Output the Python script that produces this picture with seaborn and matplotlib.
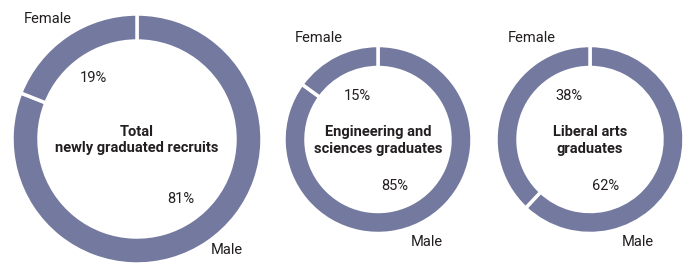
import matplotlib
matplotlib.use("Agg")
import matplotlib.pyplot as plt
import seaborn as sns

# data
titles = ["Total\nnewly graduated recruits", "Engineering and\nsciences graduates", "Liberal arts\ngraduates"]
male_pct = [81, 85, 62]
female_pct = [19, 15, 38]
labels = ["Male", "Female"]

sns.set_theme(style="white")
plt.rcParams['font.family'] = ['Liberation Sans Narrow', 'Roboto', 'DejaVu Sans']

ring_color = "#74799f"
txt_color = "#231f20"

W, H = 691, 266
fig = plt.figure(figsize=(W / 100, H / 100), dpi=100)
ax = fig.add_axes([0, 0, 1, 1])

# layout: centre (x, y from top), outer radius, ring width
layout = [
    dict(c=(137, 139), r=125, w=27),
    dict(c=(378, 139.5), r=94, w=22),
    dict(c=(590, 139.5), r=94, w=22),
]
# text offsets from centre (px, y down)
fem_off = [(-89, -120), (-59, -101), (-58, -101)]
fem_pct_off = [(-44, -61), (-21, -44), (-21, -44)]
male_pct_off = [(44, 60), (17, 46), (16, 46)]
male_off = [(90, 111), (49, 102), (48, 102)]

for i in range(3):
    cx, cy = layout[i]['c']
    r, w = layout[i]['r'], layout[i]['w']
    ax.pie([male_pct[i], female_pct[i]], center=(cx, H - cy), radius=r,
           startangle=90, counterclock=False, colors=[ring_color, ring_color],
           wedgeprops=dict(width=w, edgecolor="white", linewidth=2.5))

    def put(off, s, **kw):
        ax.text(cx + off[0], H - (cy + off[1]), s, ha="center", va="center",
                color=txt_color, **kw)

    put(fem_off[i], labels[1], fontsize=10.5)
    put(male_off[i], labels[0], fontsize=10.5)
    put(fem_pct_off[i], f"{female_pct[i]}%", fontsize=10.5)
    put(male_pct_off[i], f"{male_pct[i]}%", fontsize=10.5)
    put((0, 1), titles[i], fontsize=10.5, fontweight="bold", linespacing=1.25)

ax.set_xlim(0, W)
ax.set_ylim(0, H)
ax.set_aspect("equal")
ax.axis("off")

fig.savefig("out.png", dpi=100)
